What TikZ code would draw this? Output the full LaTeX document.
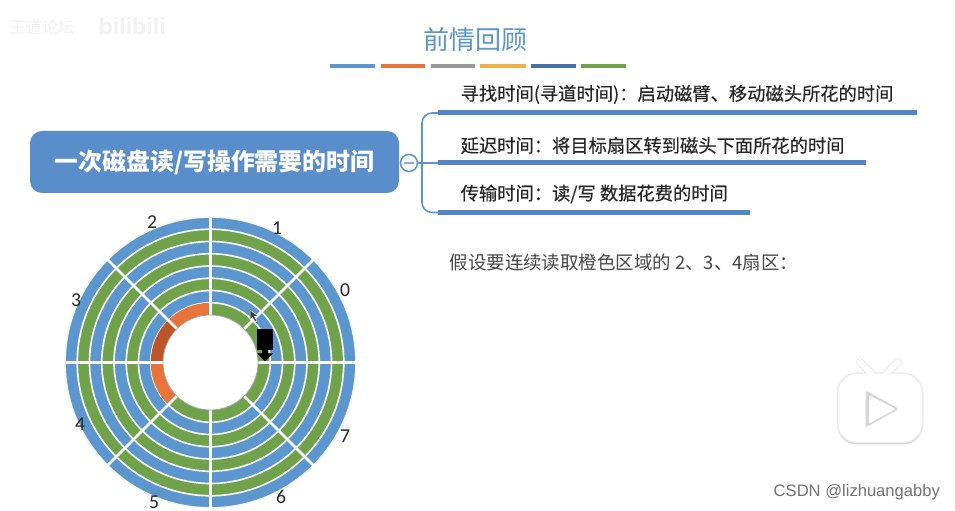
\documentclass[tikz,border=0pt]{standalone}
\usepackage{fontspec}
\usepackage{xcolor}
\usepackage{tikz}
\setmainfont{Carlito}
\newfontfamily\cjk{Noto Sans CJK SC}
\newfontfamily\cjkitem[FakeBold=0.35]{Noto Sans CJK SC}
\newfontfamily\wmfont{Liberation Sans}
\definecolor{DKBlue}{HTML}{5B96CF}
\definecolor{DKBox}{HTML}{5A8ECB}
\definecolor{DKBar}{HTML}{5285C4}
\definecolor{DKGreen}{HTML}{70A14B}
\definecolor{DKOrange}{HTML}{E8743B}
\definecolor{DKRust}{HTML}{BE5528}
\definecolor{DKRing}{HTML}{F4F8F0}
\definecolor{DKText}{HTML}{262626}
\tikzset{
  itemtext/.style={anchor=west,text=DKText,font=\cjkitem\fontsize{5.2}{6}\selectfont},
  itembar/.style={line width=.05cm,DKBar},
  ringfill/.style={draw=DKRing,line width=.017cm},
  spoke/.style={white,line width=.026cm},
  sectorlabel/.style={text=DKText,font=\fontsize{5.6}{6}\selectfont,inner sep=0pt}
}
\begin{document}
\begin{tikzpicture}[x=1cm,y=1cm]
\path[use as bounding box] (0,0) rectangle (9.55,5.11);
\fill[white] (0,0) rectangle (9.55,5.11);
% watermark
\node[anchor=west,inner sep=0pt,text=black!5,font=\cjk\fontsize{4.6}{6}\selectfont] (mark) at (0.09,4.84) {王道论坛};
\node[anchor=west,inner sep=0pt,text=black!5,font=\wmfont\bfseries\fontsize{6.6}{8}\selectfont] (logo) at (0.98,4.85) {bilibili};
% title
\node[text=DKBlue,font=\cjk\fontsize{7.4}{9}\selectfont,inner sep=0pt] (title) at (4.755,4.71) {前情回顾};
\fill[DKBlue] (3.30,4.43) rectangle (3.75,4.47);
\fill[DKOrange] (3.81,4.43) rectangle (4.25,4.47);
\fill[black!40] (4.31,4.43) rectangle (4.75,4.47);
\definecolor{DKGold}{HTML}{EDB04A}
\fill[DKGold] (4.80,4.43) rectangle (5.26,4.47);
\fill[DKBar!85!black] (5.31,4.43) rectangle (5.76,4.47);
\fill[DKGreen] (5.81,4.43) rectangle (6.26,4.47);
% root box
\node[fill=DKBox,rounded corners=.12cm,minimum width=3.69cm,minimum height=.62cm,inner sep=0pt,text=white,font=\cjk\bfseries\fontsize{6.8}{8}\selectfont] (root) at (2.145,3.49) {一次磁盘读/写操作需要的时间};
\node[draw=DKBlue,fill=white,circle,line width=.015cm,minimum size=.17cm,inner sep=0pt] (toggle) at (4.09,3.48) {};
\draw[DKBar!70,line width=.012cm] (4.04,3.48) -- (4.14,3.48);
% branches
\coordinate (seekbar) at (4.38,3.98);
\coordinate (delaybar) at (4.38,3.48);
\coordinate (transferbar) at (4.38,2.985);
\coordinate (branch) at (4.22,3.48);
\draw[DKBlue,line width=.016cm,rounded corners=.1cm] (seekbar) -| (branch) |- (transferbar);
\draw[DKBlue,line width=.016cm] (toggle) -- (delaybar);
\draw[itembar] (seekbar) -- (9.17,3.98);
\draw[itembar] (delaybar) -- (8.66,3.48);
\draw[itembar] (transferbar) -- (7.50,2.985);
\node[itemtext,inner sep=0pt] (seek) at (4.60,4.165) {寻找时间(寻道时间)：启动磁臂、移动磁头所花的时间};
\node[itemtext,inner sep=0pt] (delay) at (4.60,3.655) {延迟时间：将目标扇区转到磁头下面所花的时间};
\node[itemtext,inner sep=0pt] (transfer) at (4.60,3.17) {传输时间：读/写 数据花费的时间};
\node[anchor=west,inner sep=0pt,text=black!72,font=\cjk\fontsize{5.25}{6}\selectfont] (assume) at (4.49,2.485) {假设要连续读取橙色区域的 2、3、4扇区：};
% disk
\coordinate (disk) at (2.105,1.485);
\foreach \r/\c in {1.455/DKBlue,1.3325/DKGreen,1.21/DKBlue,1.0875/DKGreen,.965/DKBlue,.8425/DKGreen,.72/DKBlue,.5975/DKGreen}
  \fill[\c,ringfill] (disk) circle (\r);
\foreach \a/\b/\c in {90/135/DKOrange,135/180/DKRust,180/225/DKOrange}
  \fill[\c] ([shift={(\a:.5975)}]disk) arc (\a:\b:.5975) -- ([shift={(\b:.475)}]disk) arc (\b:\a:.475) -- cycle;
\foreach \a in {0,45,...,315}
  \draw[spoke] ([shift={(\a:.475)}]disk) -- ([shift={(\a:1.465)}]disk);
\fill[white,draw=black!35,line width=.008cm] (disk) circle (.475);
\node[sectorlabel] (sector0) at (3.45,2.21) {0};
\node[sectorlabel] (sector1) at (2.77,2.83) {1};
\node[sectorlabel] (sector2) at (1.52,2.89) {2};
\node[sectorlabel] (sector3) at (0.76,2.11) {3};
\node[sectorlabel] (sector4) at (0.80,0.87) {4};
\node[sectorlabel] (sector5) at (1.54,0.09) {5};
\node[sectorlabel] (sector6) at (2.81,0.14) {6};
\node[sectorlabel] (sector7) at (3.45,0.75) {7};
% head
\fill[black] (2.567,1.61) rectangle (2.733,1.82);
\fill[black] (2.62,1.62) -- (2.68,1.62) -- (2.68,1.575) -- (2.73,1.575) -- (2.65,1.495) -- (2.57,1.575) -- (2.62,1.575) -- cycle;
% cursor
\fill[black!75,draw=white,line width=.005cm] (2.50,2.01) -- (2.50,1.91) -- (2.525,1.935) -- (2.55,1.89) -- (2.57,1.90) -- (2.545,1.945) -- (2.58,1.95) -- cycle;
% play badge
\draw[black!10,line width=.075cm,line cap=round] (8.60,1.49) -- (8.72,1.37);
\draw[black!10,line width=.075cm,line cap=round] (8.98,1.49) -- (8.86,1.37);
\fill[black!16,rounded corners=.2cm] (8.37,0.665) rectangle (9.23,1.37);
\fill[black!7,rounded corners=.2cm] (8.365,0.68) rectangle (9.235,1.385);
\draw[white,line width=.06cm,line cap=round] (8.60,1.49) -- (8.72,1.37);
\draw[white,line width=.06cm,line cap=round] (8.98,1.49) -- (8.86,1.37);
\fill[white,rounded corners=.2cm] (8.38,0.69) rectangle (9.22,1.37);
\fill[black!16,draw=black!16,line width=.03cm,line join=round] (8.67,1.18) -- (8.67,0.86) -- (8.96,1.02) -- cycle;
\fill[white,draw=white,line width=.02cm,line join=round] (8.70,1.14) -- (8.70,0.89) -- (8.935,1.02) -- cycle;
% credit
\node[anchor=west,inner sep=0pt,text=black!55,font=\wmfont\fontsize{4.72}{6}\selectfont] (credit) at (7.73,0.19) {CSDN @lizhuangabby};
\end{tikzpicture}
\end{document}
